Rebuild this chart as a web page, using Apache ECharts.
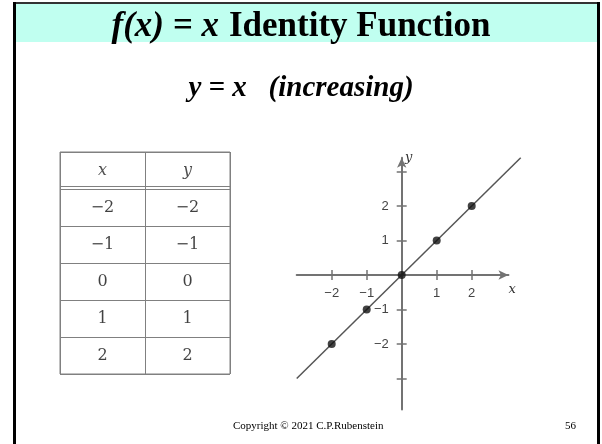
<!DOCTYPE html>
<html>
<head>
<meta charset="utf-8">
<script src="https://cdn.jsdelivr.net/npm/echarts@6/dist/echarts.min.js"></script>
<style>
html, body { margin: 0; padding: 0; background: #fff; }
#chart { width: 602px; height: 444px; }
</style>
</head>
<body>
<div id="chart"></div>
<script>
// table of values
var tableHeader = ['x', 'y'];
var xValues = [-2, -1, 0, 1, 2];
var yValues = [-2, -1, 0, 1, 2];
// plotted points
var pointX = [-2, -1, 0, 1, 2];
var pointY = [-2, -1, 0, 1, 2];
// ends of the drawn line y = x
var lineEnds = [-3, 3.4];
// ticks and labels
var xTicks = [-2, -1, 1, 2];
var yTicks = [-3, -2, -1, 1, 2, 3];
var yTickLabels = [-2, -1, 1, 2];

function minus (v) {
  return String(v).replace('-', '\u2212')
}

var cells = []
tableHeader.forEach(function (h, c) {
  cells.push([c + 0.5, 0.5, h, true])
})
xValues.forEach(function (v, r) {
  cells.push([0.5, r + 1.5, minus(v), false])
  cells.push([1.5, r + 1.5, minus(yValues[r]), false])
})

var axisGray = '#737373'
var tableGray = '#808080'

// plot box: x -3..3.05, y -3.9..3.4, 35px per unit across, 34.5 down
var plotLeft = 296.7
var plotTop = 157.7
var unitX = 35
var unitY = 34.5
var xMin = -3, xMax = 3.05, yMin = -3.9, yMax = 3.4
var plotW = (xMax - xMin) * unitX
var plotH = (yMax - yMin) * unitY
var zeroX = plotLeft - xMin * unitX
var zeroY = plotTop + yMax * unitY

var option = {
  animation: false,
  backgroundColor: '#fff',
  graphic: [
    { type: 'rect', shape: { x: 15, y: 4, width: 582, height: 38 }, style: { fill: '#c0fff0' }, z: -10 },
    { type: 'rect', shape: { x: 13, y: 2, width: 587, height: 2 }, style: { fill: '#333' } },
    { type: 'rect', shape: { x: 13, y: 2, width: 3, height: 442 }, style: { fill: '#000' } },
    { type: 'rect', shape: { x: 597, y: 2, width: 3, height: 442 }, style: { fill: '#000' } }
  ],
  title: [
    {
      text: '{i|f(x) = x}  {b|Identity Function}',
      left: 'center',
      top: 4,
      textStyle: {
        rich: {
          i: { fontFamily: 'Liberation Serif', fontStyle: 'italic', fontWeight: 'bold', fontSize: 35, color: '#000' },
          b: { fontFamily: 'Liberation Serif', fontWeight: 'bold', fontSize: 35, color: '#000' }
        }
      }
    },
    {
      text: 'y = x   (increasing)',
      left: 'center',
      top: 69,
      textStyle: { fontFamily: 'Liberation Serif', fontStyle: 'italic', fontWeight: 'bold', fontSize: 29, color: '#000' }
    },
    {
      text: 'Copyright \u00a9 2021 C.P.Rubenstein',
      left: 228,
      top: 416,
      textStyle: { fontFamily: 'Liberation Serif', fontWeight: 'normal', fontSize: 11, color: '#000' }
    },
    {
      text: '56',
      left: 560,
      top: 416,
      textStyle: { fontFamily: 'Liberation Serif', fontWeight: 'normal', fontSize: 11, color: '#000' }
    }
  ],
  grid: [
    { left: plotLeft, top: plotTop, width: plotW, height: plotH },
    { left: 60, top: 152, width: 170, height: 222, show: true, borderColor: tableGray, borderWidth: 1 },
    // wider box with the same scale, so the line runs past the arrow
    { left: plotLeft, top: plotTop, width: (lineEnds[1] - xMin) * unitX, height: plotH }
  ],
  xAxis: [
    {
      type: 'value',
      gridIndex: 0,
      min: xMin,
      max: xMax,
      position: 'bottom',
      offset: -(plotTop + plotH - zeroY),
      name: 'x',
      nameLocation: 'end',
      nameGap: 0,
      nameTextStyle: { fontFamily: 'DejaVu Serif', fontStyle: 'italic', fontSize: 13, color: '#333', verticalAlign: 'top', lineHeight: 30 },
      axisLine: { onZero: false, symbol: ['none', 'arrow'], symbolSize: [7, 10], lineStyle: { color: axisGray, width: 2 } },
      axisTick: { customValues: xTicks, length: 5, lineStyle: { color: axisGray, width: 1.5 } },
      axisLabel: { customValues: xTicks, formatter: minus, margin: 12, color: '#444', fontFamily: 'Liberation Sans', fontSize: 13 },
      splitLine: { show: false }
    },
    {
      type: 'value',
      gridIndex: 0,
      min: xMin,
      max: xMax,
      position: 'top',
      offset: -(zeroY - plotTop),
      axisLine: { onZero: false, lineStyle: { color: 'rgba(0,0,0,0)' } },
      axisTick: { customValues: xTicks, length: 5, lineStyle: { color: axisGray, width: 1.5 } },
      axisLabel: { show: false },
      splitLine: { show: false }
    },
    {
      type: 'value',
      gridIndex: 1,
      min: 0,
      max: 2,
      interval: 1,
      axisLine: { show: false },
      axisTick: { show: false },
      axisLabel: { show: false },
      splitLine: { show: true, lineStyle: { color: tableGray, width: 1 } }
    },
    {
      type: 'value',
      gridIndex: 2,
      min: xMin,
      max: lineEnds[1],
      show: false
    }
  ],
  yAxis: [
    {
      type: 'value',
      gridIndex: 0,
      min: yMin,
      max: yMax,
      position: 'left',
      offset: -(zeroX - plotLeft),
      name: 'y',
      nameLocation: 'end',
      nameGap: -6,
      nameTextStyle: { fontFamily: 'DejaVu Serif', fontStyle: 'italic', fontSize: 13, color: '#333', padding: [0, 0, 0, 14] },
      axisLine: { onZero: false, symbol: ['none', 'arrow'], symbolSize: [7, 10], lineStyle: { color: axisGray, width: 2 } },
      axisTick: { customValues: yTicks, length: 5, lineStyle: { color: axisGray, width: 1.5 } },
      axisLabel: { customValues: yTickLabels, formatter: minus, margin: 13, color: '#444', fontFamily: 'Liberation Sans', fontSize: 13 },
      splitLine: { show: false }
    },
    {
      type: 'value',
      gridIndex: 0,
      min: yMin,
      max: yMax,
      position: 'right',
      offset: -(plotLeft + plotW - zeroX),
      axisLine: { onZero: false, lineStyle: { color: 'rgba(0,0,0,0)' } },
      axisTick: { customValues: yTicks, length: 5, lineStyle: { color: axisGray, width: 1.5 } },
      axisLabel: { show: false },
      splitLine: { show: false }
    },
    {
      type: 'value',
      gridIndex: 1,
      min: 0,
      max: 6,
      interval: 1,
      inverse: true,
      axisLine: { show: false },
      axisTick: { show: false },
      axisLabel: { show: false },
      splitLine: { show: true, lineStyle: { color: tableGray, width: 1 } }
    },
    {
      type: 'value',
      gridIndex: 2,
      min: yMin,
      max: yMax,
      show: false
    }
  ],
  series: [
    {
      type: 'line',
      xAxisIndex: 3,
      yAxisIndex: 3,
      clip: false,
      showSymbol: false,
      data: lineEnds.map(function (v) { return [v, v] }),
      lineStyle: { color: '#555', width: 1.5 }
    },
    {
      type: 'scatter',
      xAxisIndex: 0,
      yAxisIndex: 0,
      symbolSize: 8,
      data: pointX.map(function (v, i) { return [v, pointY[i]] }),
      itemStyle: { color: '#111' },
      z: 5
    },
    {
      type: 'scatter',
      xAxisIndex: 2,
      yAxisIndex: 2,
      symbolSize: 1,
      silent: true,
      itemStyle: { color: 'rgba(0,0,0,0)' },
      data: cells,
      label: {
        show: true,
        position: 'inside',
        formatter: function (p) {
          return p.data[3] ? '{h|' + p.data[2] + '}' : p.data[2]
        },
        fontFamily: 'DejaVu Serif',
        fontSize: 16,
        color: '#111',
        rich: {
          h: { fontFamily: 'DejaVu Serif', fontStyle: 'italic', fontSize: 16, color: '#222' }
        }
      },
      markLine: {
        silent: true,
        symbol: 'none',
        label: { show: false },
        lineStyle: { color: tableGray, width: 1, type: 'solid' },
        data: [{ yAxis: 0.92 }]
      }
    }
  ]
}

var chart = echarts.init(document.getElementById('chart'))
chart.setOption(option)
</script>
</body>
</html>
